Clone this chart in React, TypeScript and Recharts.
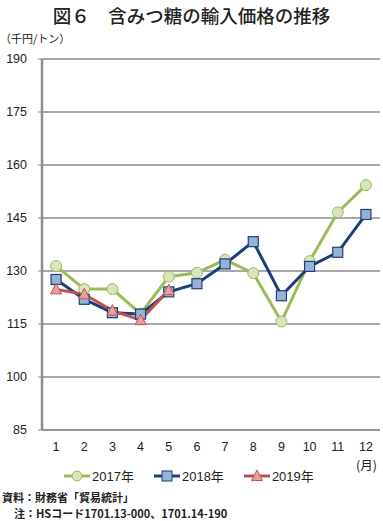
import React from "react";
import { LineChart, Line, XAxis, YAxis, CartesianGrid } from "recharts";

const months = [1, 2, 3, 4, 5, 6, 7, 8, 9, 10, 11, 12];
const price2017 = [131.4, 124.9, 124.9, 117.9, 128.4, 129.5, 133.2, 129.4, 115.7, 132.8, 146.6, 154.3];
const price2018 = [127.6, 122.0, 118.2, 117.8, 124.1, 126.4, 132.0, 138.3, 123.0, 131.3, 135.3, 146.0];
const price2019 = [124.8, 123.4, 118.8, 116.1, 124.6, null, null, null, null, null, null, null];
const yTicks = [85, 100, 115, 130, 145, 160, 175, 190];
const boundaryTicks = [0.5, 1.5, 2.5, 3.5, 4.5, 5.5, 6.5, 7.5, 8.5, 9.5, 10.5, 11.5, 12.5];

const data = months.map((m, i) => ({
  month: m,
  y2017: price2017[i],
  y2018: price2018[i],
  y2019: price2019[i],
}));

const GREEN = "#9bbb59";
const NAVY = "#1f3d7a";
const RED = "#c0504d";
const JP = "'Noto Sans CJK JP', sans-serif";
const NUM = "'Liberation Sans', Arial, sans-serif";

const Circle = (p: any) => {
  if (p.value == null) return <g key={p.key} />;
  return <circle key={p.key} cx={p.cx} cy={p.cy} r={5.5} fill="#d7e4bd" stroke={GREEN} strokeWidth={1} />;
};
const Square = (p: any) => {
  if (p.value == null) return <g key={p.key} />;
  return <rect key={p.key} x={p.cx - 5} y={p.cy - 5} width={10} height={10} fill="#95b3d7" stroke={NAVY} strokeWidth={1.2} />;
};
const Tri = (p: any) => {
  if (p.value == null) return <g key={p.key} />;
  const { cx, cy } = p;
  return (
    <polygon
      key={p.key}
      points={`${cx},${cy - 6} ${cx - 5.5},${cy + 4.5} ${cx + 5.5},${cy + 4.5}`}
      fill="#e6a09e"
      stroke={RED}
      strokeWidth={1}
    />
  );
};

function LegendItem({ color, label, marker }: { color: string; label: string; marker: React.ReactNode }) {
  return (
    <span style={{ display: "inline-flex", alignItems: "center", marginRight: 20 }}>
      <svg width={26} height={14}>
        <line x1={0} y1={7} x2={26} y2={7} stroke={color} strokeWidth={3} />
        {marker}
      </svg>
      <span style={{ fontFamily: NUM, fontSize: 13, marginLeft: 2 }}>
        {label.slice(0, 4)}
        <span style={{ fontFamily: JP }}>{label.slice(4)}</span>
      </span>
    </span>
  );
}

export default function App() {
  return (
    <div style={{ position: "absolute", left: 0, top: 0, width: 383, height: 521, background: "#fff", color: "#222" }}>
      <div style={{ position: "absolute", top: 2, left: 0, width: 383, textAlign: "center", fontFamily: JP, fontSize: 18.5, fontWeight: 500, whiteSpace: "nowrap" }}>
        図６　含みつ糖の輸入価格の推移
      </div>
      <div style={{ position: "absolute", top: 30, left: 0, fontFamily: JP, fontSize: 11 }}>（千円/トン）</div>

      <div style={{ position: "absolute", top: 0, left: 0 }}>
        <LineChart width={383} height={460} data={data} margin={{ top: 59, right: 3, left: 0, bottom: 0 }}>
          <CartesianGrid vertical={false} stroke="#8c8c8c" strokeWidth={1.5} />
          <XAxis
            dataKey="month"
            type="number"
            domain={[0.5, 12.5]}
            ticks={months}
            tickLine={false}
            axisLine={{ stroke: "#8c8c8c", strokeWidth: 1.5 }}
            tick={{ fontFamily: NUM, fontSize: 12.5, fill: "#222" }}
            tickMargin={6}
            height={30}
            interval={0}
          />
          <XAxis
            xAxisId="b"
            dataKey="month"
            type="number"
            domain={[0.5, 12.5]}
            ticks={boundaryTicks}
            tick={false}
            tickSize={4}
            tickLine={{ stroke: "#8c8c8c" }}
            axisLine={false}
            height={0}
          />
          <YAxis
            domain={[85, 190]}
            ticks={yTicks}
            width={42}
            tickSize={4}
            tickMargin={11}
            interval={0}
            axisLine={{ stroke: "#8c8c8c", strokeWidth: 2.5 }}
            tickLine={{ stroke: "#8c8c8c" }}
            tick={{ fontFamily: NUM, fontSize: 12.5, fill: "#222" }}
          />
          <Line dataKey="y2017" stroke={GREEN} strokeWidth={3} dot={Circle} isAnimationActive={false} />
          <Line dataKey="y2018" stroke={NAVY} strokeWidth={3} dot={Square} isAnimationActive={false} />
          <Line dataKey="y2019" stroke={RED} strokeWidth={3} dot={Tri} isAnimationActive={false} connectNulls={false} />
        </LineChart>
      </div>

      <div style={{ position: "absolute", top: 455, left: 356, fontFamily: JP, fontSize: 12.5, whiteSpace: "nowrap" }}>(月)</div>

      <div style={{ position: "absolute", top: 466, left: 64, display: "flex" }}>
        <LegendItem color={GREEN} label="2017年" marker={<circle cx={13} cy={7} r={5} fill="#d7e4bd" stroke={GREEN} />} />
        <LegendItem color={NAVY} label="2018年" marker={<rect x={8} y={2} width={10} height={10} fill="#95b3d7" stroke={NAVY} />} />
        <LegendItem color={RED} label="2019年" marker={<polygon points="13,1 7.5,11.5 18.5,11.5" fill="#e6a09e" stroke={RED} />} />
      </div>

      <div style={{ position: "absolute", top: 489, left: 2, fontFamily: JP, fontSize: 11, fontWeight: 700 }}>
        資料：財務省「貿易統計」
      </div>
      <div style={{ position: "absolute", top: 505, left: 14, fontFamily: JP, fontSize: 11, fontWeight: 700 }}>
        注：HSコード1701.13-000、1701.14-190
      </div>
    </div>
  );
}
